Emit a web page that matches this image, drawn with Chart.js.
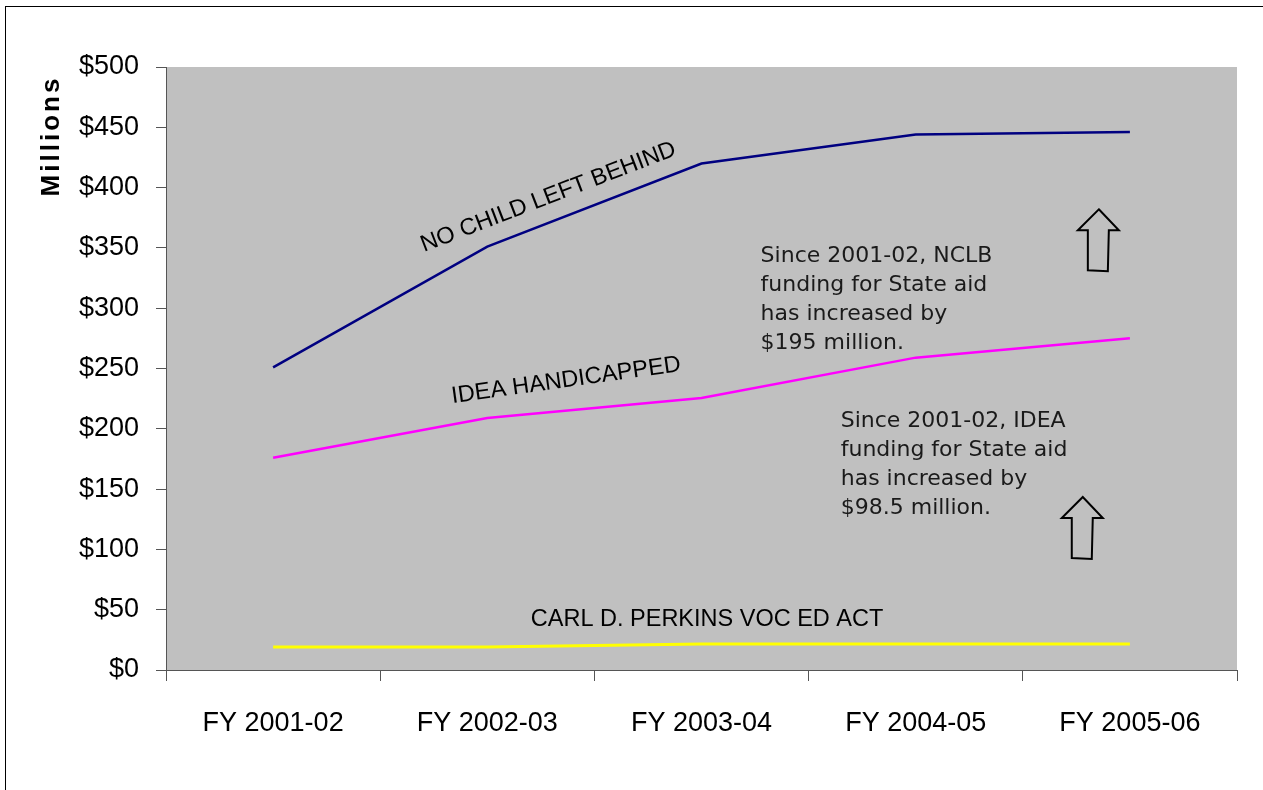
<!DOCTYPE html>
<html>
<head>
<meta charset="utf-8">
<script src="https://cdn.jsdelivr.net/npm/chart.js@4.4.1/dist/chart.umd.min.js"></script>
<style>
  html, body { margin: 0; padding: 0; background: #fff; }
  #wrap { width: 1263px; height: 790px; }
</style>
</head>
<body>
<div id="wrap"><canvas id="funding-chart" width="1263" height="790"></canvas></div>
<script>
const years = ["FY 2001-02", "FY 2002-03", "FY 2003-04", "FY 2004-05", "FY 2005-06"];
const nclb = [251, 351, 420, 444, 446];
const idea = [176, 209, 225.5, 259, 275];
const perkins = [19, 19, 21.5, 21.5, 21.5];
const yMin = 0;
const yMax = 500;
const yStep = 50;

const tickFont = { family: "'Liberation Sans', Arial, sans-serif", size: 27 };

// annotation layout, in category index / value units
const lineLabels = [
  { text: "NO CHILD LEFT BEHIND", cat: 1.285, val: 392, angle: -21 },
  { text: "IDEA HANDICAPPED", cat: 1.368, val: 240, angle: -8 },
  { text: "CARL D. PERKINS VOC ED ACT", cat: 2.026, val: 41.5, angle: 0 },
];
const notes = [
  { lines: ["Since 2001-02, NCLB", "funding for State aid", "has increased by", "$195 million."], cat: 2.276, val: 338 },
  { lines: ["Since 2001-02, IDEA", "funding for State aid", "has increased by", "$98.5 million."], cat: 2.65, val: 201.5 },
];
const arrows = [
  { cat: 3.855, val: 382 },
  { cat: 3.78, val: 143.5 },
];

function toPx(chart, cat, val) {
  const x = chart.scales.x;
  const y = chart.scales.y;
  const step = x.getPixelForValue(1) - x.getPixelForValue(0);
  return [x.getPixelForValue(0) + cat * step, y.getPixelForValue(val)];
}

const plotBackground = {
  id: "plotBackground",
  beforeDraw(chart) {
    const { ctx, chartArea } = chart;
    ctx.save();
    ctx.fillStyle = "#C0C0C0";
    ctx.fillRect(chartArea.left, chartArea.top, chartArea.right - chartArea.left, chartArea.bottom - chartArea.top);
    ctx.restore();
  },
};

const annotations = {
  id: "annotations",
  afterDatasetsDraw(chart) {
    const ctx = chart.ctx;
    ctx.save();

    // labels along the lines
    ctx.fillStyle = "#000";
    ctx.font = "23.5px 'Liberation Sans', Arial, sans-serif";
    ctx.textAlign = "center";
    ctx.textBaseline = "middle";
    lineLabels.forEach((l) => {
      const [px, py] = toPx(chart, l.cat, l.val);
      ctx.save();
      ctx.translate(px, py);
      ctx.rotate((l.angle * Math.PI) / 180);
      ctx.fillText(l.text, 0, 0);
      ctx.restore();
    });

    // notes
    ctx.fillStyle = "#1a1a1a";
    ctx.font = "22px 'DejaVu Sans', sans-serif";
    ctx.textAlign = "left";
    ctx.textBaseline = "alphabetic";
    notes.forEach((n) => {
      const [px, py] = toPx(chart, n.cat, n.val);
      n.lines.forEach((line, i) => ctx.fillText(line, px, py + i * 29));
    });

    // outlined up arrows
    ctx.strokeStyle = "#000";
    ctx.lineWidth = 2;
    arrows.forEach((a) => {
      const [tx, ty] = toPx(chart, a.cat, a.val);
      ctx.beginPath();
      ctx.moveTo(tx, ty);
      ctx.lineTo(tx + 20, ty + 21);
      ctx.lineTo(tx + 10, ty + 21);
      ctx.lineTo(tx + 9, ty + 62);
      ctx.lineTo(tx - 11, ty + 61);
      ctx.lineTo(tx - 11, ty + 21);
      ctx.lineTo(tx - 21, ty + 21);
      ctx.closePath();
      ctx.stroke();
    });

    ctx.restore();
  },
};

const frame = {
  id: "frame",
  afterDraw(chart) {
    const ctx = chart.ctx;
    ctx.save();
    // y axis title
    ctx.fillStyle = "#000";
    ctx.font = "bold 26px 'Liberation Sans', Arial, sans-serif";
    ctx.letterSpacing = "3px";
    ctx.textAlign = "center";
    ctx.textBaseline = "middle";
    ctx.translate(52, 136);
    ctx.rotate(-Math.PI / 2);
    ctx.fillText("Millions", 0, 0);
    ctx.restore();

    ctx.save();
    ctx.strokeStyle = "#000";
    ctx.lineWidth = 1;
    ctx.strokeRect(5.5, 6.5, 1400, 1000);
    ctx.restore();
  },
};

const ctx = document.getElementById("funding-chart").getContext("2d");

new Chart(ctx, {
  type: "line",
  data: {
    labels: years,
    datasets: [
      { label: "NO CHILD LEFT BEHIND", data: nclb, borderColor: "#000080", borderWidth: 2.5 },
      { label: "IDEA HANDICAPPED", data: idea, borderColor: "#FF00FF", borderWidth: 2.5 },
      { label: "CARL D. PERKINS VOC ED ACT", data: perkins, borderColor: "#FFFF00", borderWidth: 3 },
    ],
  },
  options: {
    responsive: false,
    animation: false,
    elements: {
      point: { radius: 0 },
      line: { tension: 0, fill: false },
    },
    layout: {
      padding: { top: 67, right: 26, bottom: 0, left: 0 },
    },
    scales: {
      x: {
        offset: true,
        grid: {
          offset: true,
          drawOnChartArea: false,
          tickLength: 11,
          color: "#555",
        },
        border: { color: "#555", width: 1 },
        ticks: {
          font: tickFont,
          color: "#000",
          padding: 26,
          maxRotation: 0,
        },
        afterFit(scale) {
          scale.height = 120;
        },
      },
      y: {
        min: yMin,
        max: yMax,
        grid: {
          drawOnChartArea: false,
          tickLength: 10,
          color: "#555",
        },
        border: { color: "#555", width: 1 },
        ticks: {
          stepSize: yStep,
          font: tickFont,
          color: "#000",
          padding: 17,
          callback: function (value) {
            return "$" + value;
          },
        },
        afterFit(scale) {
          scale.width = 166;
        },
      },
    },
    plugins: {
      legend: { display: false },
      tooltip: { enabled: false },
    },
  },
  plugins: [plotBackground, annotations, frame],
});
</script>
</body>
</html>
